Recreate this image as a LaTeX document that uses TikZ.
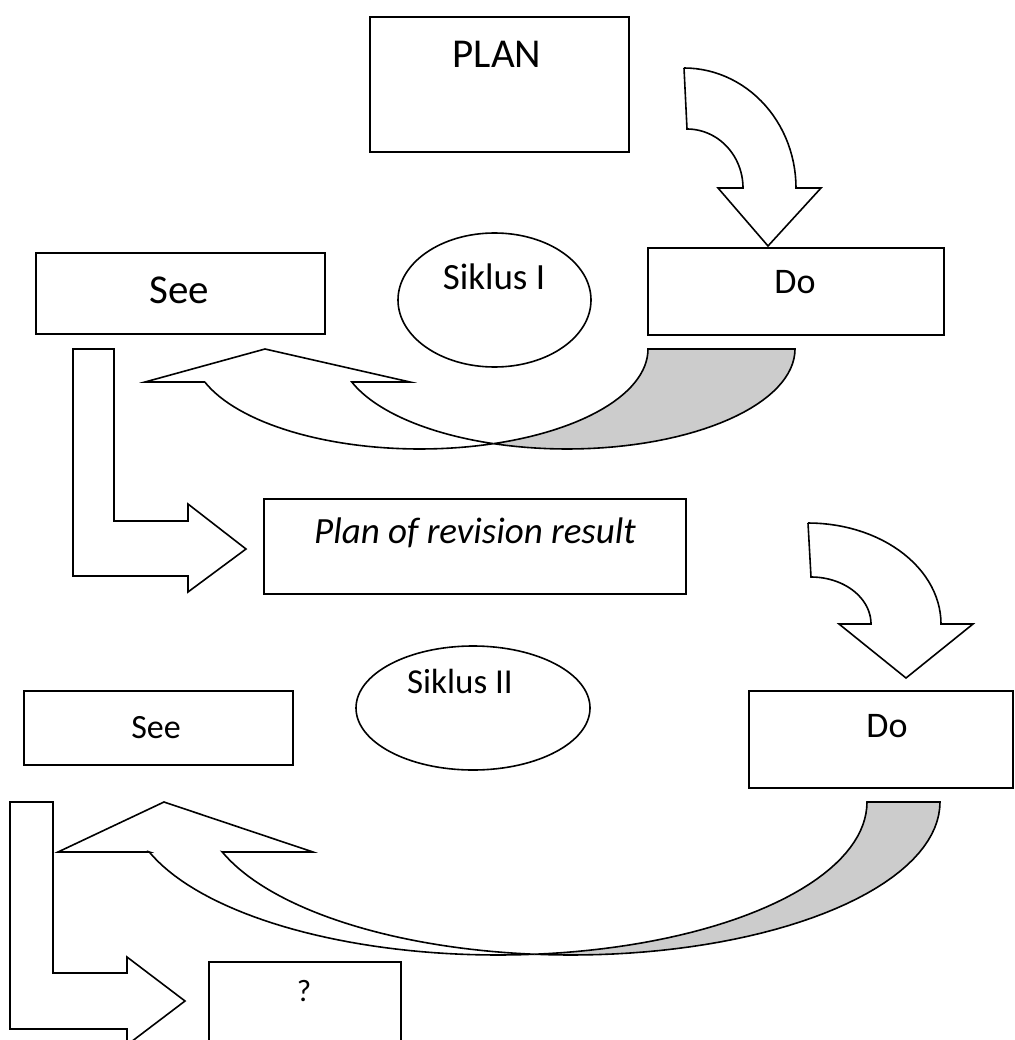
\documentclass[tikz,border=0pt]{standalone}
\usepackage{fontspec}
\setmainfont{Carlito}
\usetikzlibrary{shapes.geometric}
\definecolor{shade}{RGB}{204,204,204}
\begin{document}
\begin{tikzpicture}[x=1pt,y=-1pt,
  box/.style={draw=black,line width=1.6pt,fill=white,rectangle,inner sep=0pt,anchor=north west},
  oval/.style={draw=black,line width=1.6pt,fill=white,ellipse,inner sep=0pt},
  arr/.style={draw=black,line width=1.6pt,fill=white,line join=miter},
  lbl/.style={anchor=base,inner sep=0pt}]
\useasboundingbox (0,0) rectangle (1014,1040);
\clip (0,0) rectangle (1014,1040);
\fill[white] (0,0) rectangle (1014,1040);

% boxes
\node[box,minimum width=259pt,minimum height=135pt] (plan) at (369,16) {};
\node[box,minimum width=289pt,minimum height=81pt] (see1) at (35,252) {};
\node[oval,minimum width=193pt,minimum height=134pt] (sik1) at (494.5,300) {};
\node[box,minimum width=296pt,minimum height=87pt] (do1) at (647,247) {};
\node[box,minimum width=422pt,minimum height=95pt] (rev) at (263,498) {};
\node[box,minimum width=269pt,minimum height=74pt] (see2) at (23,690) {};
\node[oval,minimum width=234pt,minimum height=124pt] (sik2) at (473,708) {};
\node[box,minimum width=264pt,minimum height=97pt] (do2) at (748,690) {};
\node[box,minimum width=192pt,minimum height=100pt] (q) at (208,961) {};

% texts
\node[lbl,font=\fontsize{41}{49}\selectfont] (plantxt) at (497,68) {PLAN};
\node[lbl,font=\fontsize{41}{49}\selectfont] (see1txt) at (179,303) {See};
\node[lbl,font=\fontsize{37}{44}\selectfont] (sik1txt) at (494,290) {Siklus I};
\node[lbl,font=\fontsize{36}{43}\selectfont] (do1txt) at (795,294) {Do};
\node[lbl,font=\fontsize{37}{44}\selectfont\itshape] (revtxt) at (475,543) {Plan of revision result};
\node[lbl,font=\fontsize{34}{41}\selectfont] (see2txt) at (156,738) {See};
\node[lbl,font=\fontsize{35}{42}\selectfont] (sik2txt) at (460,693) {Siklus II};
\node[lbl,font=\fontsize{36}{43}\selectfont] (do2txt) at (887,737) {Do};
\node[lbl,font=\fontsize{31}{37}\selectfont] (qtxt) at (304,1001) {?};

% curved down arrow (PLAN -> Do)
\draw[arr] (684,68) -- (687,129)
  -- plot[domain=-90:0,samples=30] ({687+56*cos(\x)},{188+59*sin(\x)})
  -- (718,188) -- (768,246) -- (821,188) -- (796,188)
  -- plot[domain=0:-90,samples=30] ({684+112*cos(\x)},{188+120*sin(\x)}) -- cycle;

% curved down arrow (revision -> Do)
\draw[arr] (808,523) -- (811,577)
  -- plot[domain=-90:0,samples=30] ({811+60*cos(\x)},{624+47*sin(\x)})
  -- (839,624) -- (906,678) -- (973,624) -- (941,624)
  -- plot[domain=0:-90,samples=30] ({808+133*cos(\x)},{624+101*sin(\x)}) -- cycle;

% curved up arrow I
\draw[arr,fill=shade] plot[domain=108.8:0,samples=40] ({567+228*cos(\x)},{349+100*sin(\x)})
  -- (648,349)
  -- plot[domain=0:71.2,samples=30] ({420+228*cos(\x)},{349+100*sin(\x)}) -- cycle;
\draw[arr] (204.8,382) -- (145,382) -- (265,349) -- (410,382) -- (351.8,382)
  -- plot[domain=160.73:108.8,samples=30] ({567+228*cos(\x)},{349+100*sin(\x)})
  -- plot[domain=71.2:160.73,samples=40] ({420+228*cos(\x)},{349+100*sin(\x)}) -- cycle;

% curved up arrow II
\draw[arr,fill=shade] plot[domain=95.68:0,samples=40] ({571+369*cos(\x)},{802+153*sin(\x)})
  -- (867,802)
  -- plot[domain=0:84.32,samples=40] ({498+369*cos(\x)},{802+153*sin(\x)}) -- cycle;
\draw[arr] (149.3,852) -- (58,852) -- (164,802) -- (313,852) -- (222.3,852)
  -- plot[domain=160.93:95.68,samples=40] ({571+369*cos(\x)},{802+153*sin(\x)})
  -- plot[domain=84.32:160.93,samples=40] ({498+369*cos(\x)},{802+153*sin(\x)}) -- cycle;

% bent arrows
\draw[arr] (73,349) -- (114,349) -- (114,521) -- (188,521) -- (188,504) -- (246,549)
  -- (188,592) -- (188,576) -- (73,576) -- cycle;
\draw[arr] (10,802) -- (53,802) -- (53,973) -- (127,973) -- (127,957) -- (185,1001)
  -- (127,1045) -- (127,1029) -- (10,1029) -- cycle;
\end{tikzpicture}
\end{document}
